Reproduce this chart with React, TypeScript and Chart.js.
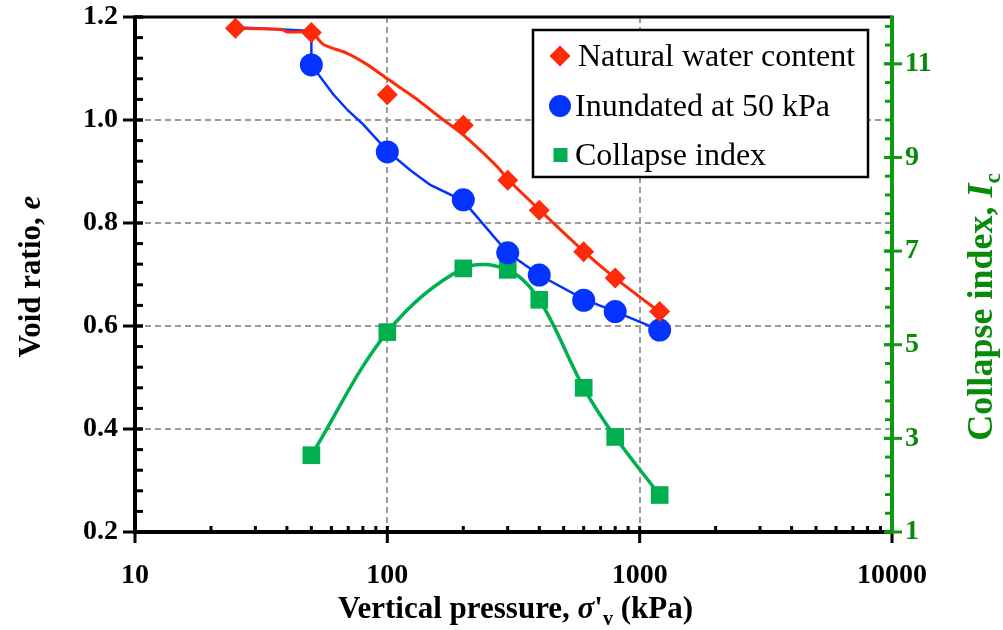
import { useEffect, useRef } from 'react';
import { Chart, registerables } from 'chart.js';

Chart.register(...registerables);

// ---------------- data ----------------
const naturalPressure = [25, 50, 100, 200, 300, 400, 600, 800, 1200];
const naturalVoidRatio = [1.178, 1.170, 1.049, 0.990, 0.883, 0.825, 0.744, 0.693, 0.628];

const inundatedPressure = [50, 100, 200, 300, 400, 600, 800, 1200];
const inundatedVoidRatio = [1.107, 0.938, 0.845, 0.742, 0.699, 0.650, 0.628, 0.592];

const collapsePressure = [50, 100, 200, 300, 400, 600, 800, 1200];
const collapseIndex = [2.64, 5.27, 6.63, 6.60, 5.96, 4.08, 3.03, 1.79];

// fitted curves drawn through the markers
const naturalCurvePressure = [25, 38, 40, 50, 56, 69, 83, 100, 127, 167, 200, 273, 300, 400, 600, 800, 1200];
const naturalCurveVoid = [1.178, 1.176, 1.171, 1.170, 1.146, 1.130, 1.108, 1.080, 1.045, 1.000, 0.971, 0.909, 0.885, 0.826, 0.745, 0.693, 0.627];

const inundatedCurvePressure = [25, 50, 50, 61, 70, 80, 100, 123, 148, 200, 300, 400, 600, 800, 1200];
const inundatedCurveVoid = [1.180, 1.173, 1.107, 1.050, 1.018, 0.992, 0.940, 0.903, 0.874, 0.843, 0.742, 0.699, 0.652, 0.628, 0.592];

const xTickValues = [10, 100, 1000, 10000];
const leftTickValues = [0.2, 0.4, 0.6, 0.8, 1.0, 1.2];
const rightTickValues = [1, 3, 5, 7, 9, 11];
const xGridValues = [100, 1000];
const yGridValues = [0.4, 0.6, 0.8, 1.0];

const legendLabels = ['Natural water content', 'Inundated at 50 kPa', 'Collapse index'];

// ---------------- styles ----------------
const RED = '#ff2a0a';
const BLUE = '#0433ff';
const GREEN = '#00b050';
const AXIS_GREEN = '#109810';
const LABEL_GREEN = '#0a8a0a';
const GRID = '#9a9a9a';
const SERIF = "'Liberation Serif', 'Times New Roman', serif";

type Part = { t: string; italic?: boolean; sub?: boolean };

function drawRich(ctx: CanvasRenderingContext2D, parts: Part[], x: number, y: number, size: number, color: string, rotate: boolean) {
  ctx.save();
  ctx.translate(x, y);
  if (rotate) ctx.rotate(-Math.PI / 2);
  const fontFor = (p: Part) => `${p.italic ? 'italic ' : ''}bold ${p.sub ? Math.round(size * 0.65) : size}px ${SERIF}`;
  let total = 0;
  for (const p of parts) {
    ctx.font = fontFor(p);
    total += ctx.measureText(p.t).width;
  }
  let cx = -total / 2;
  ctx.fillStyle = color;
  ctx.textBaseline = 'alphabetic';
  ctx.textAlign = 'left';
  for (const p of parts) {
    ctx.font = fontFor(p);
    ctx.fillText(p.t, cx, p.sub ? size * 0.22 : 0);
    cx += ctx.measureText(p.t).width;
  }
  ctx.restore();
}

function line(ctx: CanvasRenderingContext2D, x1: number, y1: number, x2: number, y2: number) {
  ctx.beginPath();
  ctx.moveTo(x1, y1);
  ctx.lineTo(x2, y2);
  ctx.stroke();
}

const noPad = (s: any) => {
  s.paddingTop = 0;
  s.paddingBottom = 0;
  s.paddingLeft = 0;
  s.paddingRight = 0;
};

const customPlugin = {
  id: 'customDecor',
  beforeDatasetsDraw(chart: any) {
    const { ctx, chartArea: a, scales } = chart;
    const x = scales.x;
    const y = scales.y;
    ctx.save();
    ctx.strokeStyle = GRID;
    ctx.lineWidth = 2;
    ctx.setLineDash([6, 4]);
    for (const v of yGridValues) {
      const py = Math.round(y.getPixelForValue(v));
      line(ctx, a.left, py, a.right, py);
    }
    for (const v of xGridValues) {
      const px = Math.round(x.getPixelForValue(v));
      line(ctx, px, a.top, px, a.bottom);
    }
    ctx.restore();
  },
  afterDraw(chart: any) {
    const { ctx, chartArea: a, scales } = chart;
    const x = scales.x;
    const y = scales.y;
    const y2 = scales.y2;
    ctx.save();

    // ----- legend -----
    const lx = 533, ly = 30, lw = 335, lh = 147;
    ctx.fillStyle = '#ffffff';
    ctx.fillRect(lx, ly, lw, lh);
    ctx.strokeStyle = '#000';
    ctx.lineWidth = 2.5;
    ctx.strokeRect(lx, ly, lw, lh);
    const rowY = [56, 106, 155];
    const textX = [578, 575, 575];
    ctx.font = `32px ${SERIF}`;
    ctx.textBaseline = 'middle';
    ctx.textAlign = 'left';
    ctx.fillStyle = '#000';
    legendLabels.forEach((lab, i) => ctx.fillText(lab, textX[i], rowY[i] + 2));
    // markers
    ctx.fillStyle = RED;
    ctx.beginPath();
    ctx.moveTo(560, rowY[0] - 10.5);
    ctx.lineTo(570.5, rowY[0]);
    ctx.lineTo(560, rowY[0] + 10.5);
    ctx.lineTo(549.5, rowY[0]);
    ctx.closePath();
    ctx.fill();
    ctx.fillStyle = BLUE;
    ctx.beginPath();
    ctx.arc(560, rowY[1], 11, 0, Math.PI * 2);
    ctx.fill();
    ctx.fillStyle = GREEN;
    ctx.fillRect(553.5, rowY[2] - 7, 14, 14);

    // ----- frame & axes -----
    ctx.strokeStyle = '#000';
    ctx.lineWidth = 3;
    line(ctx, a.left, a.top, a.right, a.top);
    ctx.lineWidth = 4;
    line(ctx, a.left, a.top - 1.5, a.left, a.bottom + 2);
    line(ctx, a.left - 2, a.bottom, a.right, a.bottom);

    // left ticks
    ctx.lineWidth = 3;
    for (const v of leftTickValues) {
      const py = y.getPixelForValue(v);
      line(ctx, a.left - 12, py, a.left + 8, py);
    }
    for (let i = 0; i <= 25; i++) {
      const v = 0.2 + i * 0.04;
      const py = y.getPixelForValue(v);
      line(ctx, a.left, py, a.left + 8, py);
    }
    // bottom ticks
    for (const v of xTickValues) {
      const px = x.getPixelForValue(v);
      line(ctx, px, a.bottom - 6, px, a.bottom + 11);
    }
    for (const d of [10, 100, 1000]) {
      for (let m = 2; m <= 9; m++) {
        const px = x.getPixelForValue(m * d);
        line(ctx, px, a.bottom - 6, px, a.bottom);
      }
    }
    // right axis (green)
    ctx.strokeStyle = AXIS_GREEN;
    ctx.lineWidth = 4;
    line(ctx, a.right, a.top - 1.5, a.right, a.bottom + 2);
    ctx.lineWidth = 3;
    for (const v of rightTickValues) {
      const py = y2.getPixelForValue(v);
      line(ctx, a.right - 8, py, a.right + 10, py);
    }
    for (let i = 0; i <= 27; i++) {
      const v = 1 + i * 0.4;
      const py = y2.getPixelForValue(v);
      line(ctx, a.right - 7, py, a.right, py);
    }

    // ----- axis titles -----
    drawRich(ctx, [{ t: 'Void ratio, ' }, { t: 'e', italic: true }], 40, (a.top + a.bottom) / 2 + 2, 31, '#000', true);
    drawRich(ctx, [{ t: 'Vertical pressure, ' }, { t: 'σ', italic: true }, { t: "'" }, { t: 'v', sub: true }, { t: ' (kPa)' }],
      (a.left + a.right) / 2 + 2, 618, 31, '#000', false);
    drawRich(ctx, [{ t: 'Collapse index, ' }, { t: 'I', italic: true }, { t: 'c', sub: true }], 992, 307, 36, LABEL_GREEN, true);

    ctx.restore();
  },
};

export default function App() {
  const ref = useRef<HTMLCanvasElement | null>(null);

  useEffect(() => {
    if (!ref.current) return;
    const tickFont = { family: SERIF, size: 28, weight: 'bold' as const };
    const chart = new Chart(ref.current, {
      type: 'scatter',
      data: {
        datasets: [
          {
            label: legendLabels[0],
            data: naturalPressure.map((p, i) => ({ x: p, y: naturalVoidRatio[i] })),
            showLine: false,
            pointStyle: 'rectRot',
            pointRadius: 10.5,
            pointBackgroundColor: RED,
            pointBorderColor: RED,
            pointBorderWidth: 0,
            yAxisID: 'y',
          },
          {
            label: legendLabels[1],
            data: inundatedPressure.map((p, i) => ({ x: p, y: inundatedVoidRatio[i] })),
            showLine: false,
            pointStyle: 'circle',
            pointRadius: 11.5,
            pointBackgroundColor: BLUE,
            pointBorderColor: BLUE,
            pointBorderWidth: 0,
            yAxisID: 'y',
          },
          {
            label: legendLabels[2],
            data: collapsePressure.map((p, i) => ({ x: p, y: collapseIndex[i] })),
            showLine: true,
            tension: 0.35,
            borderColor: GREEN,
            borderWidth: 3.5,
            pointStyle: 'rect',
            pointRadius: 12.5,
            pointBackgroundColor: GREEN,
            pointBorderColor: GREEN,
            pointBorderWidth: 0,
            yAxisID: 'y2',
          },
          {
            label: 'natural curve',
            data: naturalCurvePressure.map((p, i) => ({ x: p, y: naturalCurveVoid[i] })),
            showLine: true,
            tension: 0.2,
            borderColor: RED,
            borderWidth: 3,
            pointRadius: 0,
            yAxisID: 'y',
          },
          {
            label: 'inundated curve',
            data: inundatedCurvePressure.map((p, i) => ({ x: p, y: inundatedCurveVoid[i] })),
            showLine: true,
            tension: 0,
            borderColor: BLUE,
            borderWidth: 2.5,
            pointRadius: 0,
            yAxisID: 'y',
          },
        ],
      },
      options: {
        animation: false,
        responsive: false,
        devicePixelRatio: 1,
        layout: { padding: { top: 17, left: 0, right: 0, bottom: 0 } },
        plugins: { legend: { display: false }, tooltip: { enabled: false } },
        scales: {
          x: {
            type: 'logarithmic',
            position: 'bottom',
            min: 10,
            max: 10000,
            grid: { display: false, drawTicks: false },
            border: { display: false },
            afterBuildTicks: (s: any) => { s.ticks = xTickValues.map((v) => ({ value: v })); },
            afterFit: (s: any) => { s.height = 98; noPad(s); },
            ticks: {
              autoSkip: false,
              maxRotation: 0,
              font: tickFont,
              color: '#000',
              padding: 27,
              callback: (v: any) => String(v),
            },
          },
          y: {
            type: 'linear',
            position: 'left',
            min: 0.2,
            max: 1.2,
            grid: { display: false, drawTicks: false },
            border: { display: false },
            afterBuildTicks: (s: any) => { s.ticks = leftTickValues.map((v) => ({ value: v })); },
            afterFit: (s: any) => { s.width = 135; noPad(s); },
            ticks: {
              font: tickFont,
              color: '#000',
              padding: 17,
              callback: (v: any) => Number(v).toFixed(1),
            },
          },
          y2: {
            type: 'linear',
            position: 'right',
            min: 1,
            max: 12,
            grid: { display: false, drawTicks: false },
            border: { display: false },
            afterBuildTicks: (s: any) => { s.ticks = rightTickValues.map((v) => ({ value: v })); },
            afterFit: (s: any) => { s.width = 111; noPad(s); },
            ticks: {
              font: tickFont,
              color: LABEL_GREEN,
              padding: 13,
              callback: (v: any) => String(v),
            },
          },
        },
      },
      plugins: [customPlugin],
    });
    return () => chart.destroy();
  }, []);

  return (
    <div style={{ position: 'fixed', left: 0, top: 0, width: 1003, height: 630, background: '#fff' }}>
      <canvas ref={ref} width={1003} height={630} style={{ width: 1003, height: 630, display: 'block' }} />
    </div>
  );
}
